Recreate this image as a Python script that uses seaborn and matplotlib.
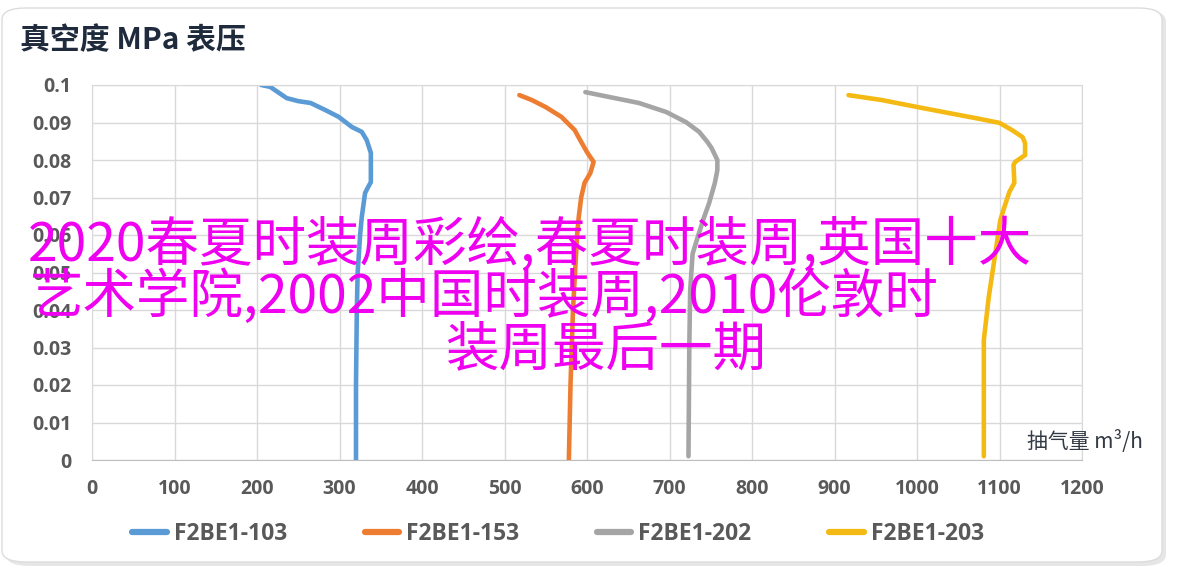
import matplotlib
matplotlib.use("Agg")
import matplotlib.pyplot as plt
import pandas as pd
import seaborn as sns
from matplotlib.lines import Line2D
from matplotlib.patches import FancyBboxPatch

# curve points (flow m3/h, vacuum MPa)
x_103 = [205, 216, 226, 236, 250, 265, 283, 299, 315, 327, 333, 338, 338, 334, 331, 327,
         325, 322, 321, 320, 320]
y_103 = [0.1, 0.0995, 0.098, 0.0965, 0.0957, 0.0952, 0.0933, 0.0915, 0.0888, 0.0875, 0.0853,
         0.0819, 0.0741, 0.0725, 0.0712, 0.0648, 0.06, 0.05, 0.04, 0.02, 0.0]

x_153 = [518, 533, 550, 569, 585, 593, 600, 608, 604, 597, 593, 590, 588, 583, 580, 578]
y_153 = [0.0973, 0.096, 0.0941, 0.0915, 0.088, 0.0848, 0.0821, 0.0795, 0.0765, 0.0739,
         0.0701, 0.0648, 0.06, 0.04, 0.02, 0.0]

x_202 = [598, 627, 663, 696, 720, 736, 746, 751, 758, 758, 755, 748, 742, 735, 728, 725,
         724, 723]
y_202 = [0.0981, 0.0968, 0.0952, 0.0928, 0.0901, 0.0875, 0.0848, 0.0832, 0.08, 0.0773,
         0.0739, 0.0685, 0.0648, 0.06, 0.055, 0.045, 0.03, 0.001]

x_203 = [917, 957, 1001, 1039, 1075, 1100, 1115, 1128, 1131, 1131, 1119, 1117, 1118, 1112,
         1106, 1101, 1095, 1087, 1081, 1081, 1081]
y_203 = [0.0973, 0.096, 0.0941, 0.0925, 0.091, 0.0899, 0.088, 0.0861, 0.0845, 0.0813,
         0.0795, 0.0787, 0.0739, 0.0715, 0.0675, 0.064, 0.0552, 0.0435, 0.032, 0.0213, 0.001]

series_names = ["F2BE1-103", "F2BE1-153", "F2BE1-202", "F2BE1-203"]
series_colors = ["#5b9bd5", "#ed7d31", "#a5a5a5", "#f5b914"]
x_ticks = list(range(0, 1300, 100))
y_ticks = [0, 0.01, 0.02, 0.03, 0.04, 0.05, 0.06, 0.07, 0.08, 0.09, 0.1]
y_tick_labels = ["0", "0.01", "0.02", "0.03", "0.04", "0.05", "0.06", "0.07", "0.08", "0.09", "0.1"]

title = "真空度 MPa 表压"
x_label = "抽气量 m³/h"
overlay_lines = ["2020春夏时装周彩绘,春夏时装周,英国十大",
                 "艺术学院,2002中国时装周,2010伦敦时",
                 "装周最后一期"]

frames = []
for name, xs, ys in zip(series_names, [x_103, x_153, x_202, x_203],
                        [y_103, y_153, y_202, y_203]):
    frames.append(pd.DataFrame({"flow": xs, "vac": ys, "series": name}))
df = pd.concat(frames, ignore_index=True)

sns.set_style("white")
plt.rcParams["font.family"] = ["Open Sans", "Noto Sans CJK SC", "DejaVu Sans"]

fig = plt.figure(figsize=(12, 5.76), dpi=100)

# card background with soft shadow
shadow = FancyBboxPatch((6 / 1200, 10 / 576), 1160 / 1200, 556 / 576,
                        boxstyle="round,pad=0,rounding_size=0.02",
                        transform=fig.transFigure, facecolor="#e6e6e6",
                        edgecolor="none", zorder=-2)
card = FancyBboxPatch((2 / 1200, 14 / 576), 1160 / 1200, 554 / 576,
                      boxstyle="round,pad=0,rounding_size=0.02",
                      transform=fig.transFigure, facecolor="white",
                      edgecolor="#dcdcdc", linewidth=1, zorder=-1)
fig.patches.extend([shadow, card])

ax = fig.add_axes([92 / 1200, 1 - 460 / 576, 990 / 1200, 375 / 576])
ax.patch.set_alpha(0)

for name, color in zip(series_names, series_colors):
    sub = df[df.series == name]
    sns.lineplot(data=sub, x="flow", y="vac", sort=False, estimator=None,
                 color=color, linewidth=3.3, ax=ax, solid_capstyle="round")

ax.set_xlim(0, 1200)
ax.set_ylim(0, 0.1)
ax.set_xticks(x_ticks)
ax.set_yticks(y_ticks)
ax.set_yticklabels(y_tick_labels)
ax.grid(True, color="#d9d9d9", linewidth=1)
ax.set_axisbelow(True)
for side in ["top", "right", "left"]:
    ax.spines[side].set_color("#d9d9d9")
ax.spines["bottom"].set_color("#bfbfbf")
ax.tick_params(length=0)
ax.tick_params(axis="y", pad=15)
ax.tick_params(axis="x", pad=14)
for lab in ax.get_xticklabels() + ax.get_yticklabels():
    lab.set_fontsize(14)
    lab.set_fontweight("bold")
    lab.set_color("#595959")
ax.set_xlabel("")
ax.set_ylabel("")

fig.text(20 / 1200, 1 - 40 / 576, title, fontsize=21.5, fontweight="bold",
         color="#1f2b3c", ha="left", va="center",
         family=["Noto Sans CJK SC", "DejaVu Sans"])
fig.text(1143 / 1200, 1 - 442 / 576, x_label, fontsize=15, color="#333a45",
         ha="right", va="center", family=["Noto Sans CJK SC", "DejaVu Sans"])

handles = [Line2D([], [], color=c, linewidth=4.5) for c in series_colors]
leg = fig.legend(handles, series_names, loc="center", bbox_to_anchor=(558 / 1200, 1 - 534 / 576),
                 ncol=4, frameon=False, handlelength=1.5, handletextpad=0.3,
                 columnspacing=3.4, prop={"family": "Open Sans", "weight": "bold", "size": 16.5})
for t in leg.get_texts():
    t.set_color("#595959")

# magenta overlay caption
line_pos = [(28, 245), (30, 297), (445, 350)]
for (px, py), txt in zip(line_pos, overlay_lines):
    fig.text(px / 1200, 1 - py / 576, txt, fontsize=38.5, color="#f000f0", ha="left",
             va="center", family=["Noto Sans CJK SC", "DejaVu Sans"], zorder=10)

fig.savefig("out.png", dpi=100)
